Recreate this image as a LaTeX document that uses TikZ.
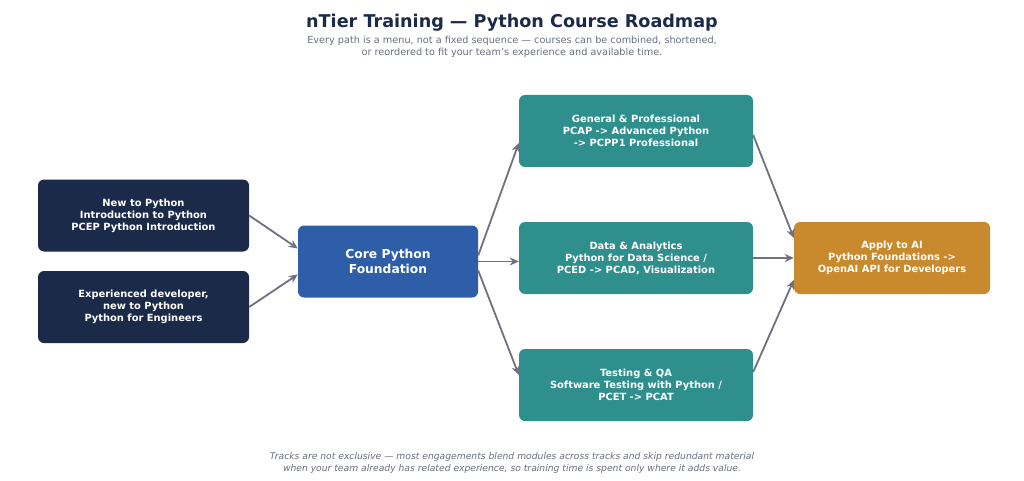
\documentclass[tikz,border=0pt]{standalone}
\usepackage{fontspec}
\setmainfont{DejaVu Sans}
\usetikzlibrary{arrows.meta,calc}
\definecolor{navy}{HTML}{1C2A4A}
\definecolor{coreblue}{HTML}{2E5EA8}
\definecolor{teal}{HTML}{2E8F8C}
\definecolor{amber}{HTML}{C98A2E}
\definecolor{arrowgray}{HTML}{6E7180}
\definecolor{subgray}{HTML}{6B7080}
\definecolor{titlecol}{HTML}{1C2A4A}
\tikzset{
  box/.style={rounded corners=6pt, draw=none, text=white, align=center,
    font=\fontsize{9.9}{12}\selectfont\bfseries, inner sep=0pt},
  conn/.style={draw=arrowgray, line width=1.8pt, -{Stealth[length=9pt,width=8pt]}},
}
\begin{document}
\begin{tikzpicture}[x=1pt,y=-1pt]
\useasboundingbox[fill=white] (0,0) rectangle (1024,481);
\node[font=\fontsize{17.6}{20}\selectfont\bfseries, text=titlecol] (title) at (512,22.5) {nTier Training — Python Course Roadmap};
\node[font=\fontsize{9.7}{12}\selectfont, text=subgray, align=center] (sub) at (512,47) {Every path is a menu, not a fixed sequence — courses can be combined, shortened,\\or reordered to fit your team's experience and available time.};

\node[box, fill=navy, minimum width=211pt, minimum height=72pt] (a) at (143.5,215.5) {New to Python\\Introduction to Python\\PCEP Python Introduction};
\node[box, fill=navy, minimum width=211pt, minimum height=72pt] (b) at (143.5,307) {Experienced developer,\\new to Python\\Python for Engineers};
\node[box, fill=coreblue, minimum width=180pt, minimum height=72pt, font=\fontsize{12.3}{15.5}\selectfont\bfseries] (core) at (388,261.5) {Core Python\\Foundation};
\node[box, fill=teal, minimum width=234pt, minimum height=72pt] (gen) at (636,131) {General \& Professional\\PCAP -> Advanced Python\\-> PCPP1 Professional};
\node[box, fill=teal, minimum width=234pt, minimum height=72pt] (data) at (636,258) {Data \& Analytics\\Python for Data Science /\\PCED -> PCAD, Visualization};
\node[box, fill=teal, minimum width=234pt, minimum height=72pt] (test) at (636,385) {Testing \& QA\\Software Testing with Python /\\PCET -> PCAT};
\node[box, fill=amber, minimum width=196pt, minimum height=72pt] (ai) at (892,258) {Apply to AI\\Python Foundations ->\\OpenAI API for Developers};

\node[font=\fontsize{9.2}{12}\selectfont\itshape, text=subgray, align=center] (foot) at (512,462.5) {Tracks are not exclusive — most engagements blend modules across tracks and skip redundant material\\when your team already has related experience, so training time is spent only where it adds value.};

\draw[conn] (a.east) -- ($(core.west)+(0,-13)$);
\draw[conn] (b.east) -- ($(core.west)+(0,13)$);
\draw[conn] ($(core.east)+(0,-6)$) -- ($(gen.west)+(0,12)$);
\draw[conn] (core.east) -- (core.east -| data.west);
\draw[conn] ($(core.east)+(0,9)$) -- ($(test.west)+(0,-10)$);
\draw[conn] ($(gen.east)+(0,4)$) -- ($(ai.west)+(0,-20)$);
\draw[conn] (data.east) -- (ai.west);
\draw[conn] ($(test.east)+(0,-13)$) -- ($(ai.west)+(0,22)$);
\end{tikzpicture}
\end{document}
